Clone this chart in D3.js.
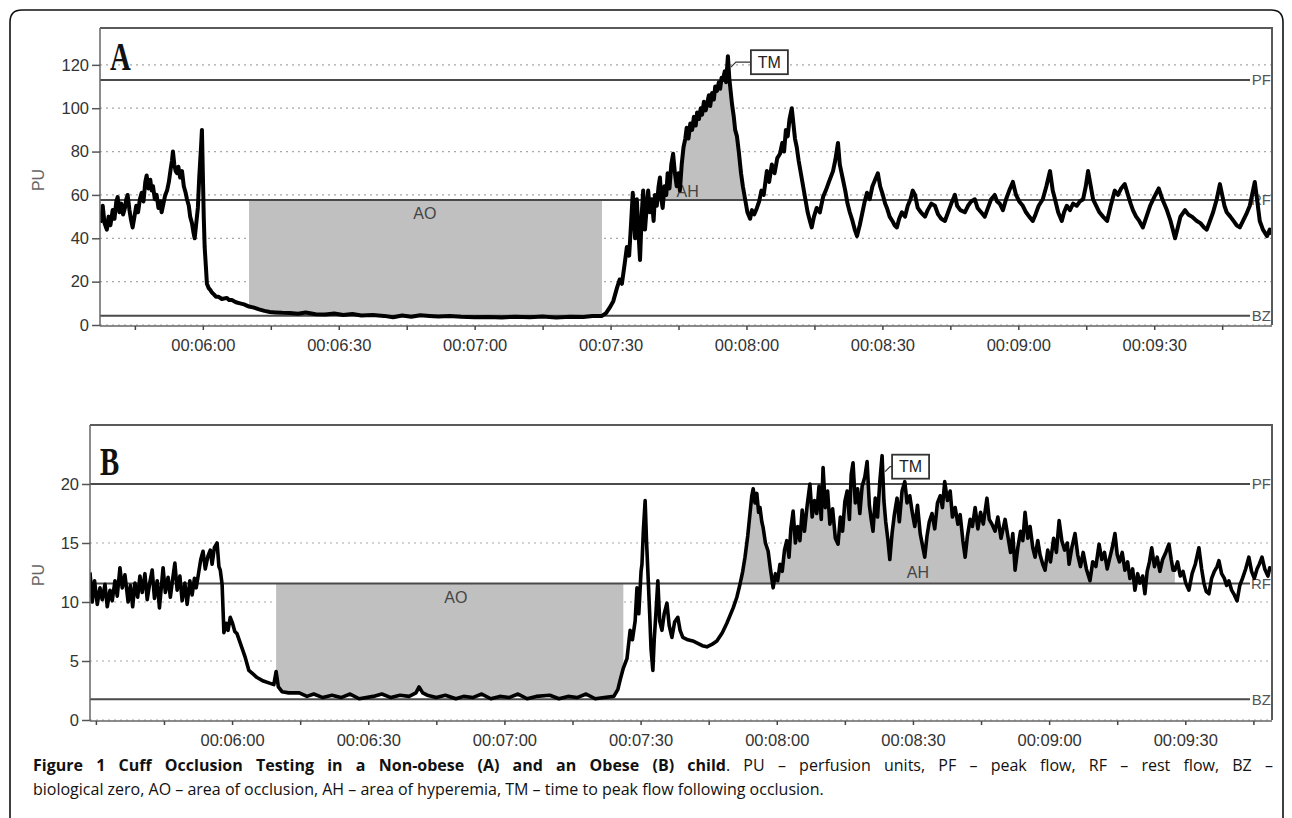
<!DOCTYPE html>
<html>
<head>
<meta charset="utf-8">
<script src="https://cdn.jsdelivr.net/npm/d3@7"></script>
<style>
  body { margin: 0; background: #fff; }
  .cap { position: absolute; left: 33px; width: 1240px; font-family: "Open Sans", sans-serif; font-size: 16px; line-height: 24px; color: #111; }
  #cap1 { top: 753px; text-align: justify; text-align-last: justify; }
  #cap2 { top: 777px; }
</style>
</head>
<body>
<svg id="chart" width="1292" height="818"></svg>
<div class="cap" id="cap1"><b>Figure 1 Cuff Occlusion Testing in a Non-obese (A) and an Obese (B) child</b>. PU – perfusion units, PF – peak flow, RF – rest flow, BZ –</div>
<div class="cap" id="cap2">biological zero, AO – area of occlusion, AH – area of hyperemia, TM – time to peak flow following occlusion.</div>
<script>
// laser doppler traces, [seconds, PU]
var traceA = [
  [337.3,52],[337.6,48],[337.9,55],[338.3,47],[338.8,44],[339.2,50],[339.6,46],[340.1,53],[340.5,49],[340.9,57],
  [341.2,59],[341.6,52],[342.0,56],[342.4,51],[342.8,54],[343.1,58],[343.4,60],[343.8,53],[344.1,49],[344.5,45],
  [344.9,50],[345.3,55],[345.7,52],[346.1,58],[346.5,61],[346.9,57],[347.3,66],[347.6,69],[348.0,63],[348.4,67],
  [348.7,62],[349.0,64],[349.4,58],[349.8,60],[350.2,54],[350.6,57],[350.9,52],[351.3,56],[351.7,60],[352.1,62],
  [352.5,66],[352.9,72],[353.2,76],[353.4,80],[353.7,74],[354.0,71],[354.3,70],[354.6,73],[355.0,68],[355.4,71],
  [355.8,64],[356.2,61],[356.5,58],[356.9,55],[357.2,50],[357.6,47],[357.9,43],[358.2,40],[358.5,46],[358.9,54],
  [359.2,68],[359.4,75],[359.6,82],[359.8,90],[360.0,70],[360.2,50],[360.4,36],[360.7,26],[360.9,19],[361.3,17],
  [361.7,16],[362.0,15],[362.5,14],[362.9,13],[363.5,13],[364.2,12],[365.3,12.5],[365.8,11.5],[366.4,11.5],[367.3,10.5],
  [368.2,10],[369.1,9.5],[370.2,8.5],[371.3,8],[372.4,7.2],[373.6,6.5],[374.8,6],[376,5.8],[377.5,5.6],[379.2,5.5],
  [381,5.2],[382.7,5.8],[384.9,5],[387,4.8],[389,5.3],[391,4.6],[393,5.1],[395,4.4],[397.5,4.6],[400,4.2],
  [402,3.6],[404,4.4],[406,3.8],[408,4.5],[410,4.2],[412,3.9],[414.5,4.1],[417,3.8],[420,3.6],[423,3.7],
  [426,3.5],[429,3.8],[432.2,3.6],[435,3.9],[438,3.4],[441,3.8],[444,3.7],[446,4.1],[448.1,4.2],[449,5.5],
  [449.8,8],[450.6,11],[451.4,17],[452.0,21],[452.5,19],[453.1,28],[453.6,36],[454.1,32],[454.5,46],[454.9,61],
  [455.2,50],[455.4,40],[455.8,58],[456.1,45],[456.5,30],[456.9,52],[457.2,62],[457.6,44],[458.0,55],[458.3,62],
  [458.7,52],[459.1,58],[459.5,48],[459.8,60],[460.2,55],[460.6,64],[460.9,68],[461.2,58],[461.5,54],[461.9,64],
  [462.3,60],[462.6,70],[463.0,63],[463.4,74],[463.8,79],[464.2,70],[464.6,64],[465.0,70],[465.3,62],[465.7,74],
  [466.1,82],[466.5,86],[466.8,91],[467.2,86],[467.6,93],[468.0,90],[468.4,96],[468.8,92],[469.1,98],[469.5,95],
  [469.9,100],[470.2,97],[470.6,103],[471.0,99],[471.3,102],[471.7,106],[472.0,101],[472.4,107],[472.8,104],[473.1,110],
  [473.5,108],[473.9,112],[474.2,109],[474.5,114],[474.8,113],[475.2,117],[475.5,112],[475.9,124],[476.2,114],[476.5,108],
  [476.8,102],[477.2,96],[477.5,90],[477.9,87],[478.3,80],[478.8,70],[479.2,64],[479.7,58],[480.2,52],[480.8,49],
  [481.2,53],[481.7,51],[482.3,54],[482.8,57],[483.3,62],[483.8,60],[484.5,71],[485.0,66],[485.6,74],[486.2,70],
  [486.8,77],[487.4,79],[487.9,84],[488.3,80],[488.7,90],[489.1,87],[489.5,95],[490.0,100],[490.3,94],[490.7,86],
  [491.1,82],[491.5,76],[492.0,70],[492.5,64],[493.0,58],[493.5,52],[494.0,48],[494.4,45],[494.9,50],[495.5,54],
  [496.2,52],[496.9,59],[497.5,62],[498.2,66],[499.1,71],[499.6,76],[500.2,84],[500.6,74],[501.3,67],[501.8,62],
  [502.3,56],[502.8,52],[503.4,48],[503.9,44],[504.4,41],[505.0,46],[505.6,52],[506.1,57],[506.6,61],[507.2,58],
  [507.8,64],[508.4,67],[509.0,70],[509.5,64],[510.1,60],[510.6,56],[511.0,54],[511.6,50],[512.2,48],[512.7,46],
  [513.2,45],[513.7,49],[514.3,52],[515.0,50],[515.6,55],[516.2,58],[516.7,62],[517.2,60],[517.8,54],[518.5,52],
  [519.4,50],[520.0,53],[520.8,56],[521.6,55],[522.3,51],[523.0,49],[523.8,48],[524.5,52],[525.2,56],[526.0,60],
  [526.5,55],[527.2,53],[528.2,52],[528.9,55],[529.6,57],[530.4,58],[531.0,54],[531.8,52],[532.6,50],[533.3,54],
  [534.0,58],[534.8,60],[535.3,57],[535.9,56],[536.6,53],[537.3,58],[538.0,62],[538.8,66],[539.5,60],[540.2,57],
  [541.0,55],[541.7,52],[542.4,50],[543.2,48],[543.8,51],[544.5,55],[545.4,58],[546.2,64],[547.0,71],[547.6,62],
  [548.1,58],[548.8,52],[549.6,48],[550.1,52],[550.7,55],[551.4,53],[552.1,56],[552.9,55],[553.6,57],[554.3,58],
  [554.9,64],[555.4,71],[556.0,64],[556.5,58],[557.2,55],[557.9,52],[558.7,50],[559.6,48],[560.4,55],[561.3,62],
  [562.0,60],[562.7,63],[563.5,65],[564.2,60],[564.8,56],[565.3,53],[566.0,50],[566.7,48],[567.5,45],[568.3,50],
  [569.1,55],[570.0,59],[571.0,63],[571.8,58],[572.8,53],[573.6,48],[574.1,44],[574.6,40],[575.2,45],[575.8,50],
  [576.8,53],[577.5,51],[578.3,50],[579.4,48],[580.2,47],[581.0,45],[581.6,44],[582.3,48],[583.0,52],[583.8,58],
  [584.5,65],[585.0,60],[585.5,55],[586.0,52],[586.8,50],[587.5,48],[588.2,46],[588.9,45],[589.6,48],[590.3,51],
  [591.1,55],[591.6,60],[592.2,66],[592.7,58],[593.3,48],[594.0,44],[594.9,41],[595.5,44],[596.0,42]
];

var traceB = [
  [328.7,12.5],[329.2,10],[329.7,11.8],[330.3,9.8],[330.9,11.2],[331.4,10.2],[332.0,11.5],[332.5,9.6],[333.1,11],[333.6,10.1],
  [334.2,11.8],[334.7,10.5],[335.3,12.9],[335.8,11.2],[336.4,12.3],[337.1,10],[337.6,11.4],[338.1,9.6],[338.6,11.6],[339.2,10.4],
  [339.7,12.2],[340.2,10.8],[340.8,12.4],[341.3,10.2],[341.9,11.7],[342.4,12.7],[342.9,10.3],[343.5,11.8],[344.0,9.5],[344.8,12.9],
  [345.3,10.8],[345.9,12.1],[346.4,10.4],[346.9,11.9],[347.4,13.3],[347.9,11.0],[348.5,12.2],[349.0,10.1],[349.6,11.6],[350.1,9.8],
  [350.7,11.8],[351.2,10.6],[351.7,12.0],[352.1,11.2],[352.6,12.4],[353.1,13.6],[353.6,14.3],[354.1,12.8],[354.7,13.9],[355.2,14.4],
  [355.6,13.2],[356.1,14.6],[356.7,15.0],[357.1,13.0],[357.4,12.7],[357.8,11.5],[358.2,7.4],[358.7,8.2],[359.1,7.6],[359.6,8.7],
  [360.1,8.2],[360.6,7.5],[361.1,7.3],[362.0,6.3],[362.9,5.3],[363.7,4.2],[364.6,3.9],[365.5,3.6],[366.9,3.3],[368.4,3.1],
  [369.2,3.0],[369.7,4.1],[370.2,2.8],[371.0,2.4],[372.5,2.3],[374.8,2.3],[376.5,2.0],[378,2.2],[380,1.9],[382.0,2.1],
  [384,1.9],[386,2.2],[388,1.8],[391.1,2.0],[393,2.2],[395,1.9],[397,2.1],[399,2.0],[400.5,2.3],[401.2,2.8],
  [402,2.3],[403.0,2.1],[405,1.9],[407,2.1],[409.3,1.8],[411,2.0],[413,1.9],[415,2.2],[417,1.8],[419,2.0],
  [421,1.9],[423,2.2],[425,1.8],[427,2.0],[430,2.1],[432,1.8],[434,2.0],[436,1.9],[438,2.2],[440,1.8],
  [442,1.9],[444.1,2.0],[445.0,2.6],[445.5,3.4],[446.2,4.4],[447.0,5.2],[447.7,7.6],[448.2,6.8],[448.8,8.4],[449.2,11.2],
  [449.6,9.0],[450.1,12.6],[450.3,13.2],[450.6,16.0],[451.0,18.6],[451.3,15.2],[451.6,12.6],[452.0,9.0],[452.3,6.0],[452.7,4.2],
  [453.0,6.8],[453.4,9.2],[453.8,11.8],[454.2,8.4],[454.7,7.6],[455.2,9.0],[455.8,9.9],[456.3,8.0],[456.9,7.0],[457.5,8.3],
  [458.2,8.7],[458.7,7.6],[459.3,7.0],[460.4,6.8],[461.5,6.7],[462.6,6.5],[463.6,6.3],[464.6,6.2],[465.7,6.4],[466.8,6.7],
  [468.0,7.4],[469.0,8.2],[470.4,9.5],[471.2,10.4],[471.9,11.5],[472.5,12.6],[473.0,13.8],[473.6,15.6],[474.1,17.5],[474.5,19.0],
  [474.8,19.6],[475.2,18.4],[475.6,19.2],[476.0,17.6],[476.3,18.0],[476.7,16.8],[477.0,16.3],[477.5,15.0],[478.1,14.3],[478.6,12.8],
  [479.2,11.2],[479.7,12.4],[480.2,11.8],[480.7,13.2],[481.2,12.6],[481.7,14.4],[482.2,15.2],[482.7,13.8],[483.1,16.2],[483.6,17.7],
  [484.1,15.0],[484.6,16.4],[485.1,15.2],[485.6,17.8],[486.1,16.0],[486.7,18.2],[487.3,20.0],[487.8,17.2],[488.3,18.6],[488.8,17.5],
  [489.3,19.8],[489.8,17.0],[490.2,21.4],[490.7,18.0],[491.2,19.4],[491.7,16.6],[492.3,17.9],[492.9,15.4],[493.5,14.9],[494.0,17.2],
  [494.5,16.0],[495.0,18.5],[495.5,19.4],[496.0,17.0],[496.4,20.8],[496.8,21.8],[497.3,18.4],[497.8,19.6],[498.3,17.5],[498.8,19.8],
  [499.4,20.6],[499.9,21.9],[500.4,18.2],[500.8,17.0],[501.2,16.0],[501.7,18.8],[502.2,17.2],[502.7,20.2],[503.2,22.4],[503.6,18.6],
  [504.0,16.8],[504.5,15.2],[504.9,13.6],[505.4,15.8],[505.9,17.4],[506.5,18.8],[507.0,16.8],[507.6,19.4],[508.2,20.2],[508.7,18.4],
  [509.3,19.0],[509.8,17.7],[510.4,16.4],[511.0,18.2],[511.6,15.8],[512.1,14.8],[512.6,13.8],[513.1,15.6],[513.6,16.8],[514.2,17.5],
  [514.8,16.2],[515.4,18.4],[516.0,19.0],[516.5,18.0],[517.0,20.2],[517.6,18.6],[518.2,19.4],[518.7,17.2],[519.3,18.0],[519.9,16.6],
  [520.4,17.4],[521.0,15.2],[521.5,13.8],[522.0,15.6],[522.6,17.0],[523.1,16.4],[523.7,18.0],[524.3,16.2],[524.9,17.6],[525.5,16.6],
  [526.3,18.8],[526.8,17.0],[527.4,16.6],[528.1,16.0],[528.7,17.2],[529.4,15.4],[530.3,17.0],[530.9,15.6],[531.5,14.2],[532.0,15.8],
  [532.5,12.7],[533.1,14.6],[533.7,16.0],[534.2,15.2],[534.7,17.6],[535.3,15.4],[535.8,16.4],[536.4,14.6],[536.9,13.8],[537.5,15.2],
  [538.0,14.0],[538.6,13.2],[539.1,12.7],[539.7,14.4],[540.3,13.4],[541.0,15.4],[541.6,14.2],[542.2,16.9],[542.8,15.2],[543.4,14.4],
  [544.0,15.0],[544.4,13.2],[545.0,14.6],[545.7,15.8],[546.3,14.0],[546.9,13.0],[547.5,14.2],[548.2,12.8],[549.0,11.8],[549.6,13.4],
  [550.3,13.0],[551.0,14.9],[551.6,13.6],[552.2,14.2],[552.8,12.8],[553.4,13.8],[553.9,14.6],[554.5,15.8],[555.0,14.0],[555.5,13.4],
  [556.1,14.2],[556.7,12.7],[557.3,13.4],[557.8,12.0],[558.4,12.8],[558.9,11.0],[559.5,12.4],[560.0,11.6],[560.6,12.2],[561.1,10.7],
  [561.6,12.6],[562.1,13.4],[562.6,14.6],[563.2,13.0],[563.8,13.8],[564.4,12.6],[565.0,13.6],[565.7,14.2],[566.4,14.9],[566.9,13.6],
  [567.3,12.7],[567.7,12.7],[568.3,13.4],[568.9,12.2],[569.5,12.6],[570.1,11.6],[570.8,11.0],[571.5,12.4],[572.2,13.2],[573.0,14.6],
  [573.6,12.8],[574.1,11.6],[574.6,10.9],[575.2,10.7],[575.8,12.0],[576.4,12.6],[577.0,13.0],[577.4,13.5],[578.0,12.4],[578.6,12.0],
  [579.1,11.4],[579.6,11.8],[580.2,11.0],[580.8,10.6],[581.4,10.1],[582.0,11.4],[582.6,12.0],[583.3,12.8],[584.0,13.8],[584.6,12.6],
  [585.2,12.0],[585.8,12.8],[586.3,13.2],[586.9,13.8],[587.5,12.8],[588.2,12.2],[588.6,12.9],[589.1,12.7]
];

// reference levels (peak flow, rest flow, biological zero)
var levelNames = ["PF", "RF", "BZ"];
var levelsA = [113, 57.7, 4.3];
var levelsB = [20, 11.56, 1.75];

var yTicksA = [0, 20, 40, 60, 80, 100, 120];
var yTicksB = [0, 5, 10, 15, 20];
var xTicks = [330, 345, 360, 375, 390, 405, 420, 435, 450, 465, 480, 495, 510, 525, 540, 555, 570, 585];
var xTickLabels = ["", "", "00:06:00", "", "00:06:30", "", "00:07:00", "", "00:07:30", "", "00:08:00", "", "00:08:30", "", "00:09:00", "", "00:09:30", ""];

// shaded windows [from, to] in seconds, and where their labels sit [sec, PU]
var aoRangeA = [369.9, 448.7], ahRangeA = [455.5, 481];
var aoRangeB = [369.7, 446.3], ahRangeB = [472.5, 568];
var aoLabelA = [409, 49], ahLabelA = [467, 59];
var aoLabelB = [409.3, 9.9], ahLabelB = [511.1, 12.0];

var svg = d3.select("#chart");
var FONT = "'Liberation Sans', Arial, sans-serif";

// outer frame, rounded at the top
svg.append("path")
  .attr("d", "M10,840 V22 Q10,10 22,10 H1271 Q1283,10 1283,22 V840")
  .attr("fill", "none").attr("stroke", "#111").attr("stroke-width", 1.6);

function drawPanel(p) {
  var x = d3.scaleLinear().domain(p.xDomain).range([p.left, p.right]);
  var y = d3.scaleLinear().domain(p.yDomain).range([p.bottom, p.top]);
  var g = svg.append("g");

  g.append("clipPath").attr("id", "clip" + p.name)
    .append("rect").attr("x", p.left).attr("y", p.top)
    .attr("width", p.right - p.left).attr("height", p.bottom - p.top + 2);

  // dotted grid
  g.selectAll(".grid").data(p.yTicks).enter().append("line")
    .attr("x1", p.left).attr("x2", p.right)
    .attr("y1", function(d) { return y(d); }).attr("y2", function(d) { return y(d); })
    .attr("stroke", "#a8a8a8").attr("stroke-width", 1.2).attr("stroke-dasharray", "2,4");

  var rf = p.levels[1];
  var inside = function(r) { return p.data.filter(function(d) { return d[0] >= r[0] && d[0] <= r[1]; }); };

  g.append("path").datum(inside(p.aoRange))
    .attr("fill", "#c0c0c0")
    .attr("d", d3.area().x(function(d) { return x(d[0]); })
      .y0(y(rf)).y1(function(d) { return y(Math.min(d[1], rf)); }));

  g.append("path").datum(inside(p.ahRange))
    .attr("fill", "#c0c0c0")
    .attr("d", d3.area().x(function(d) { return x(d[0]); })
      .y0(y(rf)).y1(function(d) { return y(Math.max(d[1], rf)); }));

  // level lines with their tags on the right
  p.levels.forEach(function(v, i) {
    g.append("line")
      .attr("x1", p.left).attr("x2", p.right - 22)
      .attr("y1", y(v)).attr("y2", y(v))
      .attr("stroke", "#4a4a4a").attr("stroke-width", 2);
    g.append("text")
      .attr("x", p.right - 1).attr("y", y(v)).attr("dy", "0.36em")
      .attr("text-anchor", "end")
      .style("font-family", FONT).style("font-size", "15px").style("fill", "#555")
      .text(levelNames[i]);
  });

  // area labels
  [["AO", p.aoLabel], ["AH", p.ahLabel]].forEach(function(l) {
    g.append("text")
      .attr("x", x(l[1][0])).attr("y", y(l[1][1]))
      .attr("text-anchor", "middle")
      .style("font-family", FONT).style("font-size", "16px").style("fill", "#444")
      .text(l[0]);
  });

  // the trace
  g.append("path").datum(p.data)
    .attr("clip-path", "url(#clip" + p.name + ")")
    .attr("fill", "none").attr("stroke", "#000")
    .attr("stroke-width", p.lineWidth).attr("stroke-linejoin", "round")
    .attr("d", d3.line().x(function(d) { return x(d[0]); }).y(function(d) { return y(d[1]); }));

  // plot frame: top and right edges
  g.append("path")
    .attr("d", "M" + p.left + "," + p.top + "H" + p.right + "V" + p.bottom)
    .attr("fill", "none").attr("stroke", "#5a5a5a").attr("stroke-width", 2);

  // y axis
  var ya = g.append("g").attr("transform", "translate(" + p.left + ",0)")
    .call(d3.axisLeft(y).tickValues(p.yTicks).tickSize(8).tickPadding(3));
  ya.select(".domain").attr("stroke", "#666").attr("stroke-width", 1.5)
    .attr("d", "M0," + p.top + "V" + (p.bottom + 1));
  ya.selectAll(".tick line").attr("stroke", "#555").attr("stroke-width", 1.5);
  ya.selectAll(".tick text").style("font-family", FONT).style("font-size", "16.5px").style("fill", "#333");

  // x axis
  var ticks = xTicks.filter(function(t) { return t >= p.xDomain[0] && t <= p.xDomain[1]; });
  var xa = g.append("g").attr("transform", "translate(0," + (p.bottom + 1) + ")")
    .call(d3.axisBottom(x).tickValues(ticks).tickSize(4).tickPadding(9)
      .tickFormat(function(t) { return xTickLabels[xTicks.indexOf(t)]; }));
  xa.select(".domain").attr("stroke", "#666").attr("stroke-width", 1.5)
    .attr("d", "M" + p.left + ",0H" + p.right);
  xa.selectAll(".tick line").attr("stroke", "#444").attr("stroke-width", 1.5);
  xa.selectAll(".tick text").style("font-family", FONT).style("font-size", "16.5px").style("fill", "#333");

  // y label
  g.append("text")
    .attr("transform", "translate(" + 44 + "," + p.puY + ") rotate(-90)")
    .attr("text-anchor", "middle")
    .style("font-family", FONT).style("font-size", "16px").style("fill", "#666")
    .text("PU");

  // panel letter
  g.append("text")
    .attr("transform", "translate(" + p.letterPos[0] + "," + p.letterPos[1] + ") scale(0.72,1)")
    .style("font-family", "'Liberation Serif', 'Times New Roman', serif")
    .style("font-weight", "bold").style("font-size", "40px").style("fill", "#111")
    .text(p.name);

  // TM marker next to the highest sample
  var peak = p.data[d3.maxIndex(p.data, function(d) { return d[1]; })];
  var px = x(peak[0]), py = y(peak[1]);
  var bx = px + p.tmOffset[0], by = py + p.tmOffset[1];
  g.append("path")
    .attr("d", "M" + (px + 3) + "," + (by + 5) + "L" + (px + 8) + "," + by + "H" + bx)
    .attr("fill", "none").attr("stroke", "#333").attr("stroke-width", 1.2);
  g.append("rect").attr("x", bx).attr("y", by - 12).attr("width", 37).attr("height", 24)
    .attr("fill", "#fff").attr("stroke", "#333").attr("stroke-width", 1.8);
  g.append("text").attr("x", bx + 18.5).attr("y", by).attr("dy", "0.36em")
    .attr("text-anchor", "middle")
    .style("font-family", FONT).style("font-size", "16px").style("fill", "#222")
    .text("TM");
}

drawPanel({
  name: "A", data: traceA, levels: levelsA, yTicks: yTicksA,
  xDomain: [337.3, 596], yDomain: [0, 137],
  left: 100, right: 1272, top: 28, bottom: 325, lineWidth: 4,
  aoRange: aoRangeA, ahRange: ahRangeA, aoLabel: aoLabelA, ahLabel: ahLabelA,
  puY: 180, letterPos: [110, 70], tmOffset: [23, 6]
});

drawPanel({
  name: "B", data: traceB, levels: levelsB, yTicks: yTicksB,
  xDomain: [328.7, 589.1], yDomain: [0, 25],
  left: 90, right: 1272, top: 425, bottom: 720, lineWidth: 3.6,
  aoRange: aoRangeB, ahRange: ahRangeB, aoLabel: aoLabelB, ahLabel: ahLabelB,
  puY: 575, letterPos: [100, 475], tmOffset: [10, 11]
});
</script>
</body>
</html>
